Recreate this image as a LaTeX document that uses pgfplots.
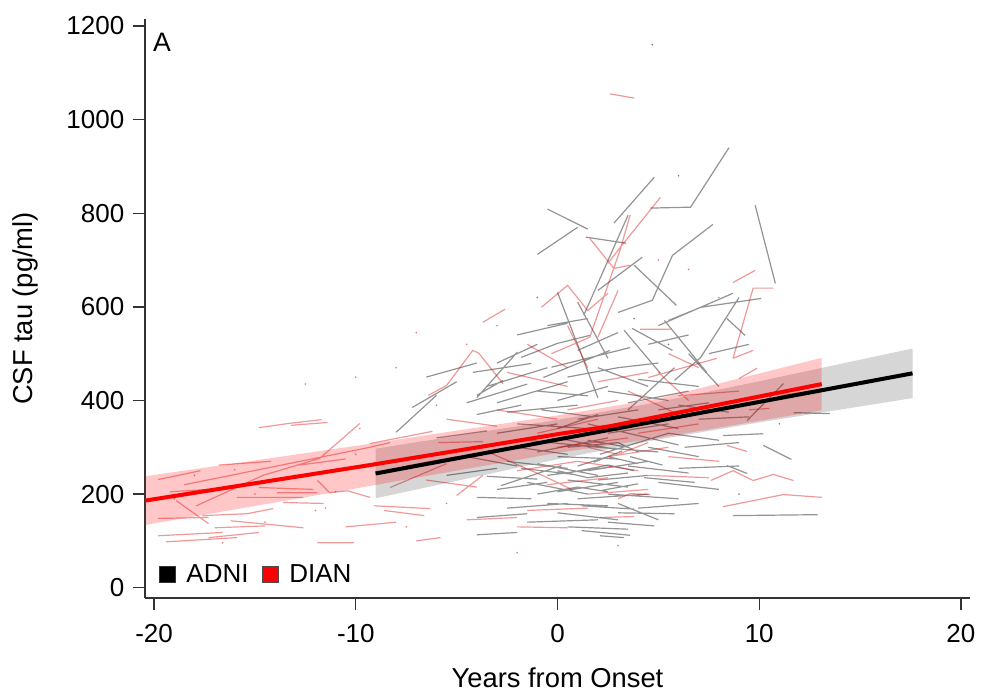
\documentclass[border=0pt]{standalone}
\usepackage{pgfplots}
\pgfplotsset{compat=1.18}
\usepackage{fontspec}
\setmainfont{Liberation Sans}
\begin{document}
\begin{tikzpicture}
\begin{axis}[
  scale only axis, width=618.75pt, height=434.25pt,
  xmin=-20.45, xmax=20.45, ymin=-22, ymax=1215,
  axis lines=left, axis line style={-, line width=1pt, black!80},
  xtick={-20,-10,0,10,20}, ytick={0,200,...,1200},
  tick align=outside, major tick length=9pt,
  tick style={line width=1pt, black!80},
  /pgf/number format/assume math mode=true,
  /pgf/number format/1000 sep={},
  ticklabel style={font=\fontsize{19.5}{23}\selectfont},
  xticklabel style={yshift=-7pt},
  yticklabel style={xshift=-3pt},
  xlabel={Years from Onset}, ylabel={CSF tau (pg/ml)},
  label style={font=\fontsize{20.5}{24}\selectfont},
  xlabel style={at={(axis description cs:0.5,-0.138)}, anchor=center},
  ylabel style={at={(axis description cs:-0.1455,0.5)}, anchor=center},
  unbounded coords=jump,
  legend style={draw=none, fill=none, at={(axis description cs:0.012,0.04)}, anchor=west,
    font=\fontsize{19.5}{23}\selectfont, legend columns=2,
    /tikz/every even column/.append style={column sep=8pt}},
  legend cell align=left,
]
\coordinate (O) at (rel axis cs:0,0);
\addlegendimage{legend image code/.code={\draw[fill=black, draw=black!80, line width=0.6pt] (0pt,-6pt) rectangle (12pt,6pt); \path (18pt,0pt);}}
\addlegendentry{ADNI}
\addlegendimage{legend image code/.code={\draw[fill=red, draw=black!70, line width=0.6pt] (0pt,-6pt) rectangle (12pt,6pt); \path (18pt,0pt);}}
\addlegendentry{DIAN}

% ADNI individual trajectories
\addplot[black, opacity=0.42, line width=0.9pt, forget plot] table[row sep=\\] {
x y\\
2.8 779\\ 4.8 877\\ nan nan\\
4.6 811\\ 6.6 813\\ 8.5 940\\ nan nan\\
-0.5 809\\ 1.5 766\\ nan nan\\
-1.0 712\\ 1.0 770\\ nan nan\\
1.4 749\\ 3.4 736\\ nan nan\\
3.5 796\\ 1.3 582\\ nan nan\\
7.7 776\\ 5.7 710\\ 4.7 614\\ 3.0 588\\ nan nan\\
9.8 817\\ 10.8 650\\ nan nan\\
4.2 706\\ 2.0 635\\ nan nan\\
3.8 689\\ 5.9 603\\ nan nan\\
0.0 631\\ 2.0 406\\ nan nan\\
8.7 629\\ 5.0 560\\ nan nan\\
10.1 618\\ 7.1 599\\ 5.5 571\\ nan nan\\
8.4 575\\ 9.3 539\\ nan nan\\
9.0 620\\ 7.1 492\\ 5.8 443\\ nan nan\\
5.3 571\\ 7.4 460\\ nan nan\\
3.3 550\\ 5.1 458\\ nan nan\\
3.0 545\\ 1.0 507\\ nan nan\\
3.7 554\\ 5.7 507\\ nan nan\\
-2.0 503\\ -4.0 406\\ nan nan\\
-4.2 460\\ -1.3 479\\ nan nan\\
-1.8 492\\ 0.0 522\\ 1.6 539\\ nan nan\\
-0.3 471\\ 3.6 513\\ nan nan\\
-0.7 449\\ 2.6 507\\ nan nan\\
11.7 374\\ 13.5 372\\ nan nan\\
9.4 357\\ 11.2 436\\ nan nan\\
8.2 325\\ 10.2 329\\ nan nan\\
10.2 304\\ 11.6 274\\ nan nan\\
8.4 261\\ 9.4 244\\ nan nan\\
8.7 154\\ 12.9 156\\ nan nan\\
-8.0 332\\ -6.0 411\\ nan nan\\
-4.0 411\\ -2.7 443\\ nan nan\\
-4.0 193\\ -1.3 190\\ nan nan\\
-4.0 150\\ -1.5 158\\ nan nan\\
-4.0 113\\ -2.0 118\\ nan nan\\
-2.8 218\\ 0.2 261\\ nan nan\\
2.1 111\\ 3.3 107\\ nan nan\\
3.0 160\\ 5.8 158\\ nan nan\\
4.3 235\\ 6.8 225\\ nan nan\\
6.3 300\\ 9.0 310\\ nan nan\\
2.1 285\\ 5.5 330\\ nan nan\\
1.2 122\\ 3.6 112\\ nan nan\\
-3.5 430\\ -0.5 470\\ nan nan\\
-3.0 395\\ 0.5 440\\ nan nan\\
-2.5 375\\ 1.0 390\\ nan nan\\
-2.0 350\\ 1.5 340\\ nan nan\\
-3.0 330\\ 0.0 350\\ nan nan\\
-1.5 315\\ 2.0 300\\ nan nan\\
-1.0 290\\ 2.5 320\\ nan nan\\
-2.5 270\\ 0.5 255\\ nan nan\\
-1.0 265\\ 2.0 240\\ nan nan\\
0.0 280\\ 3.0 275\\ nan nan\\
-0.5 240\\ 3.0 260\\ nan nan\\
0.5 230\\ 3.5 215\\ nan nan\\
-1.5 225\\ 1.5 200\\ nan nan\\
0.0 205\\ 3.0 225\\ nan nan\\
1.0 190\\ 4.5 200\\ nan nan\\
-0.5 180\\ 2.5 175\\ nan nan\\
1.5 250\\ 4.5 270\\ nan nan\\
2.0 300\\ 5.0 290\\ nan nan\\
2.5 330\\ 5.5 350\\ nan nan\\
3.0 365\\ 6.0 340\\ nan nan\\
1.0 360\\ 4.0 380\\ nan nan\\
3.5 395\\ 6.5 420\\ nan nan\\
2.5 420\\ 5.5 400\\ nan nan\\
4.0 445\\ 7.0 430\\ nan nan\\
0.0 400\\ 2.5 430\\ nan nan\\
-1.0 420\\ 1.5 410\\ nan nan\\
5.0 380\\ 7.5 395\\ nan nan\\
5.5 330\\ 8.0 315\\ nan nan\\
4.5 300\\ 7.0 280\\ nan nan\\
3.5 260\\ 6.5 245\\ nan nan\\
5.0 225\\ 8.0 210\\ nan nan\\
2.5 200\\ 6.0 190\\ nan nan\\
3.0 180\\ 5.0 145\\ nan nan\\
0.0 160\\ 3.0 145\\ nan nan\\
-1.5 140\\ 2.0 145\\ nan nan\\
0.5 130\\ 3.5 125\\ nan nan\\
-2.5 170\\ 0.5 180\\ nan nan\\
2.0 470\\ 4.5 430\\ nan nan\\
5.8 470\\ 3.5 380\\ nan nan\\
1.0 610\\ 2.5 490\\ nan nan\\
6.5 500\\ 8.0 430\\ nan nan\\
7.0 360\\ 9.5 365\\ nan nan\\
6.0 255\\ 9.0 260\\ nan nan\\
-4.5 280\\ -2.0 260\\ nan nan\\
-5.5 240\\ -3.0 255\\ nan nan\\
-6.0 320\\ -3.5 335\\ nan nan\\
-4.0 370\\ -1.8 390\\ nan nan\\
-4.5 395\\ -1.5 435\\ nan nan\\
0.5 300\\ 3.0 310\\ 4.0 290\\ nan nan\\
1.0 260\\ 2.5 280\\ 4.0 265\\ nan nan\\
0.0 250\\ 1.5 235\\ 3.5 245\\ nan nan\\
1.5 315\\ 3.5 300\\ nan nan\\
2.0 230\\ 4.5 240\\ nan nan\\
-1.0 200\\ 1.0 215\\ 2.5 205\\ nan nan\\
4.5 320\\ 6.0 305\\ nan nan\\
1.5 350\\ 3.0 335\\ 5.0 315\\ nan nan\\
-2.0 300\\ 0.5 285\\ nan nan\\
0.0 340\\ 2.0 370\\ nan nan\\
6.0 390\\ 8.5 375\\ nan nan\\
-3.0 210\\ -0.5 225\\ nan nan\\
4.0 170\\ 7.0 180\\ nan nan\\
0.5 450\\ 3.0 470\\ 5.0 480\\ nan nan\\
7.5 500\\ 9.5 520\\ nan nan\\
-0.5 560\\ 1.5 575\\ nan nan\\
4.5 520\\ 6.5 540\\ nan nan\\
-2.0 540\\ 0.5 565\\ nan nan\\
-7.2 385\\ -5.0 440\\ nan nan\\
-6.5 450\\ -4.0 480\\ nan nan\\
-3.0 480\\ -1.0 520\\ nan nan\\
0.5 245\\ 2.5 262\\ 3.8 250\\ nan nan\\
1.8 268\\ 3.2 292\\ nan nan\\
0.2 318\\ 2.8 296\\ nan nan\\
2.2 208\\ 4.0 222\\ nan nan\\
-1.8 255\\ 0.8 242\\ nan nan\\
3.6 280\\ 5.2 262\\ nan nan\\
1.2 175\\ 3.8 168\\ nan nan\\
-3.5 238\\ -1.0 232\\ nan nan\\
2.5 140\\ 4.8 132\\ nan nan\\
-0.8 380\\ 1.8 365\\
};

% DIAN individual trajectories
\addplot[red!85!black, opacity=0.4, line width=0.9pt, forget plot] table[row sep=\\] {
x y\\
2.6 1055\\ 3.8 1046\\ nan nan\\
5.1 834\\ 3.0 721\\ 2.5 693\\ nan nan\\
1.6 746\\ 2.8 682\\ 3.6 689\\ nan nan\\
3.6 796\\ 3.1 721\\ 1.6 535\\ -0.3 500\\ nan nan\\
3.0 635\\ 2.0 535\\ nan nan\\
-0.8 599\\ 0.5 646\\ 1.5 592\\ 2.5 629\\ nan nan\\
-3.7 567\\ -2.6 595\\ nan nan\\
-6.4 411\\ -5.5 432\\ -4.2 507\\ -3.9 501\\ -2.7 436\\ nan nan\\
8.7 652\\ 9.8 678\\ nan nan\\
10.7 640\\ 9.7 640\\ 8.7 490\\ nan nan\\
4.1 552\\ 5.6 552\\ nan nan\\
8.7 490\\ 9.7 507\\ nan nan\\
7.9 490\\ 4.5 449\\ nan nan\\
-14.8 342\\ -13.3 351\\ -11.7 359\\ nan nan\\
-13.2 347\\ -11.4 353\\ nan nan\\
-9.8 351\\ -11.8 276\\ -14.6 240\\ -17.9 175\\ nan nan\\
-19.8 231\\ -17.7 250\\ nan nan\\
-18.5 220\\ -9.3 300\\ -8.3 310\\ nan nan\\
-11.9 229\\ -11.3 203\\ -10.4 207\\ -9.3 193\\ nan nan\\
-15.9 193\\ -12.6 193\\ nan nan\\
-13.9 203\\ -11.9 203\\ nan nan\\
-14.8 214\\ -12.1 210\\ nan nan\\
-18.9 186\\ -17.3 137\\ nan nan\\
-13.6 182\\ -11.6 180\\ nan nan\\
-17.6 154\\ -15.4 158\\ -14.1 169\\ nan nan\\
-16.2 143\\ -12.6 128\\ nan nan\\
-19.8 111\\ -16.6 118\\ nan nan\\
-19.4 98\\ -15.9 107\\ nan nan\\
-17.3 107\\ -14.8 118\\ nan nan\\
-11.9 96\\ -10.1 96\\ nan nan\\
-19.8 148\\ -17.3 150\\ nan nan\\
-9.1 175\\ -6.3 169\\ nan nan\\
-8.6 165\\ -6.6 154\\ nan nan\\
-9.3 308\\ -6.2 334\\ nan nan\\
-5.9 310\\ -3.7 312\\ nan nan\\
-7.0 100\\ -5.8 107\\ nan nan\\
-5.0 197\\ -3.7 240\\ nan nan\\
-8.3 214\\ -5.5 265\\ nan nan\\
-3.4 289\\ -0.6 237\\ 0.7 210\\ nan nan\\
7.6 229\\ 8.7 250\\ 9.7 229\\ 10.7 242\\ 11.7 229\\ nan nan\\
8.2 173\\ 11.2 199\\ 13.1 193\\ nan nan\\
2.1 150\\ 3.8 152\\ nan nan\\
3.0 190\\ 3.6 201\\ 4.6 199\\ nan nan\\
8.4 304\\ 9.4 291\\ nan nan\\
9.5 380\\ 10.5 383\\ nan nan\\
-2.5 460\\ 0.5 430\\ nan nan\\
-1.5 520\\ 0.5 470\\ nan nan\\
0.5 560\\ 1.5 470\\ nan nan\\
-3.0 380\\ 0.0 360\\ nan nan\\
-1.0 330\\ 2.0 360\\ nan nan\\
0.0 300\\ 3.5 320\\ nan nan\\
1.0 270\\ 4.0 250\\ nan nan\\
-0.5 220\\ 2.5 235\\ nan nan\\
2.5 280\\ 5.5 300\\ nan nan\\
4.0 330\\ 7.0 350\\ nan nan\\
3.5 420\\ 6.0 370\\ nan nan\\
5.0 460\\ 6.5 400\\ nan nan\\
6.0 410\\ 9.0 420\\ nan nan\\
5.5 280\\ 8.0 270\\ nan nan\\
1.5 200\\ 4.5 210\\ nan nan\\
-2.0 250\\ 1.0 270\\ nan nan\\
0.5 380\\ 3.0 400\\ nan nan\\
2.0 440\\ 4.5 460\\ nan nan\\
4.5 240\\ 7.5 235\\ nan nan\\
-1.5 165\\ 1.5 170\\ nan nan\\
5.5 500\\ 7.0 470\\ nan nan\\
-2.0 130\\ 0.5 128\\ nan nan\\
-4.5 145\\ -2.0 150\\ nan nan\\
11.0 410\\ 12.5 420\\ nan nan\\
-7.5 260\\ -5.0 280\\ nan nan\\
9.0 447\\ 9.9 469\\ nan nan\\
-16.8 262\\ -14.2 270\\ nan nan\\
-19.2 205\\ -16.5 212\\ nan nan\\
-12.8 262\\ -10.5 275\\ nan nan\\
-17.0 128\\ -14.5 132\\ nan nan\\
-10.5 130\\ -8.0 140\\ nan nan\\
-6.5 230\\ -4.0 215\\ nan nan\\
-5.5 360\\ -3.0 345\\ nan nan\\
1.5 300\\ 3.0 285\\ 4.5 310\\
};

% single observations
\addplot[only marks, mark=*, mark size=0.45pt, red!80!black, opacity=0.35, forget plot] coordinates {
(-18.0,240) (-14.5,140) (-12.0,165) (-10.0,285) (-11.0,205) (-16.0,252) (-19.0,190)
(-9.8,340) (-6.0,390) (-4.5,520) (-8.0,470) (-10.0,450) (-12.5,435) (-7.0,545)
(-16.6,96) (-15.0,200) (-13.0,240) (-11.5,170) (-5.5,180) (-7.5,130) (-3.0,560)
(5.0,700) (3.0,90) (-2.0,75) (8.0,620) (6.5,680)};
\addplot[only marks, mark=*, mark size=0.45pt, black, opacity=0.35, forget plot] coordinates {
(4.7,1160) (6.0,880) (3.8,575) (5.5,520) (-1.0,620) (9.0,200) (11.0,350)};

% confidence bands
\addplot[fill=black, fill opacity=0.16, draw=none, forget plot] coordinates {
(-9.02,297) (0,358.5) (5,396.7) (10,441) (17.6,511)
(17.6,405) (10,353) (5,316.7) (0,274.5) (-9.02,191)} -- cycle;
\addplot[fill=red, fill opacity=0.22, draw=none, forget plot] coordinates {
(-20.45,238) (-10,303) (0,368) (5,404) (13.1,491)
(13.1,379) (5,320) (0,288) (-10,212) (-20.45,134)} -- cycle;

% fitted lines
\addplot[black, line width=3pt, forget plot] coordinates {(-9.02,244) (17.6,458)};
\addplot[red, line width=3pt, forget plot] coordinates {(-20.45,186) (-9.3,262) (0,328) (2.6,345) (13.1,435)};

\node[anchor=center, font=\fontsize{20}{24}\selectfont] at (axis description cs:0.0206,0.960) {A};
\end{axis}
\pgfresetboundingbox
\path[use as bounding box] (O) ++(-108.75pt,-75pt) rectangle ++(735.75pt,523.5pt);
\end{tikzpicture}
\end{document}
